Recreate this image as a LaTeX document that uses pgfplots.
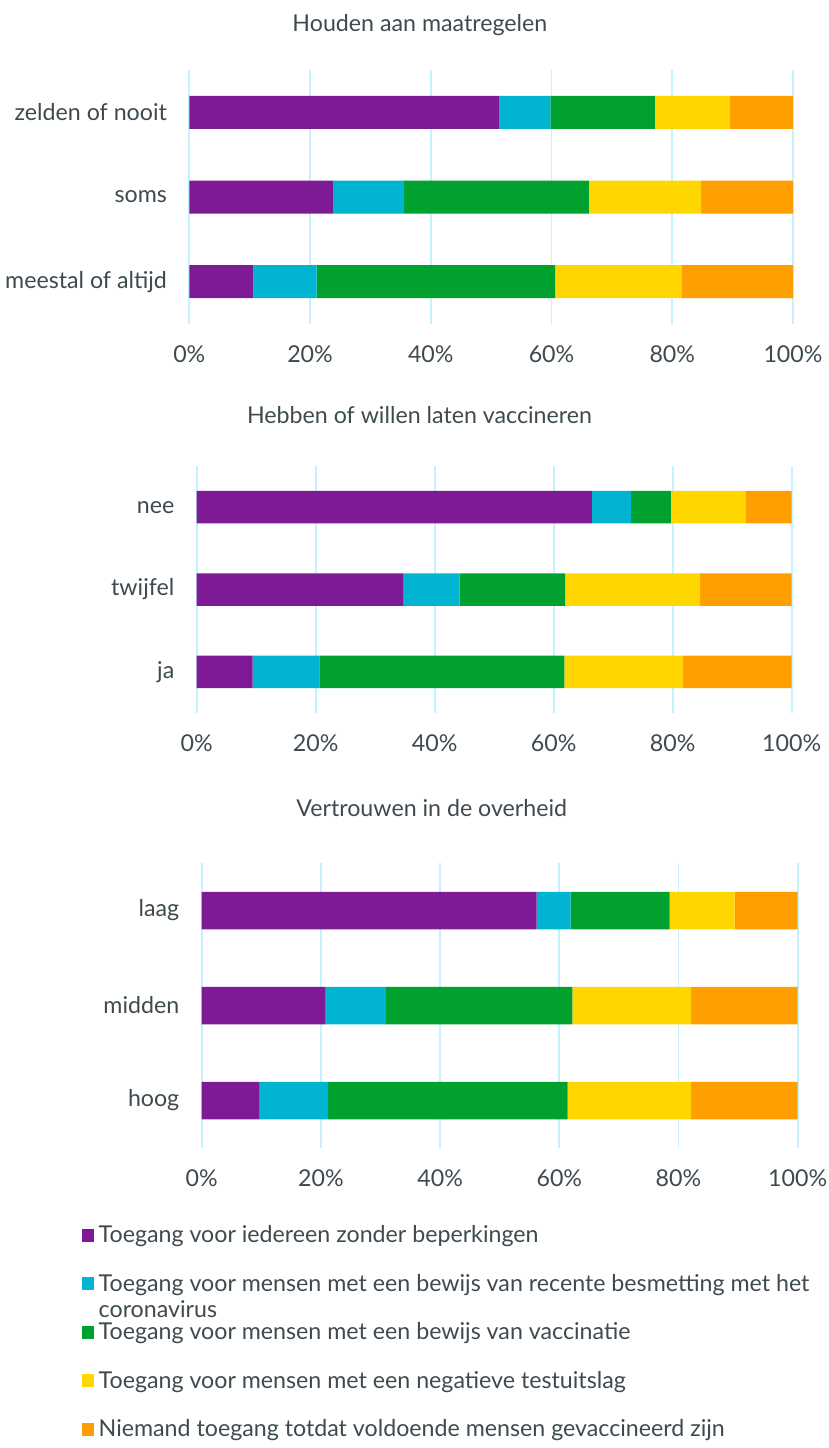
\documentclass[border=0pt]{standalone}
\usepackage{pgfplots}
\pgfplotsset{compat=1.18}
\usepackage{fontspec}
\setmainfont{Lato}
\definecolor{cpurple}{HTML}{7F1A96}
\definecolor{ccyan}{HTML}{00B4D2}
\definecolor{cgreen}{HTML}{00A12F}
\definecolor{cyellow}{HTML}{FFD600}
\definecolor{corange}{HTML}{FF9E00}
\definecolor{cgrid}{HTML}{C4F2FF}
\definecolor{ctext}{HTML}{3E4A4F}
\newcommand{\fs}{\fontsize{11.6}{13}\selectfont}
\pgfplotsset{
 mystyle/.style={
  xbar stacked, scale only axis,
  xmin=0, xmax=100, ymin=-0.5, ymax=2.5,
  axis line style={draw=none},
  major tick length=0pt,
  xtick={0,20,40,60,80,100},
  xticklabels={0\%,20\%,40\%,60\%,80\%,100\%},
  ytick={0,1,2},
  xmajorgrids, grid style={cgrid, line width=0.9pt},
  tick label style={font=\fs, text=ctext},
  xticklabel style={anchor=center, inner sep=0pt},
  xticklabel shift=15pt,
  yticklabel style={anchor=east, inner sep=0pt},
  yticklabel shift=11pt,
  title style={font=\fs, text=ctext, anchor=center, inner sep=0pt},
  every axis plot/.append style={draw=none},
 },
}
\begin{document}
\begin{tikzpicture}
\path[use as bounding box] (0,0) rectangle (414.5pt,-724pt);
% Panel 1
\begin{axis}[mystyle, at={(94.65pt,-35pt)}, anchor=north west,
  width=301.85pt, height=127pt, bar width=16.5pt,
  yticklabels={meestal of altijd, soms, zelden of nooit},
  title={Houden aan maatregelen}, title style={at={(0.382,1)}, yshift=16.5pt}]
\addplot[fill=cpurple] coordinates {(10.6,0) (23.8,1) (51.3,2)};
\addplot[fill=ccyan] coordinates {(10.5,0) (11.8,1) (8.5,2)};
\addplot[fill=cgreen] coordinates {(39.5,0) (30.6,1) (17.3,2)};
\addplot[fill=cyellow] coordinates {(20.9,0) (18.6,1) (12.5,2)};
\addplot[fill=corange] coordinates {(18.5,0) (15.2,1) (10.4,2)};
\end{axis}
% Panel 2
\begin{axis}[mystyle, at={(98.35pt,-233pt)}, anchor=north west,
  width=297.5pt, height=123.5pt, bar width=16.25pt,
  yticklabels={ja, twijfel, nee},
  title={Hebben of willen laten vaccineren}, title style={at={(0.3745,1)}, yshift=19.5pt}]
\addplot[fill=cpurple] coordinates {(9.4,0) (34.7,1) (66.4,2)};
\addplot[fill=ccyan] coordinates {(11.2,0) (9.5,1) (6.6,2)};
\addplot[fill=cgreen] coordinates {(41.2,0) (17.7,1) (6.7,2)};
\addplot[fill=cyellow] coordinates {(19.9,0) (22.7,1) (12.5,2)};
\addplot[fill=corange] coordinates {(18.3,0) (15.4,1) (7.8,2)};
\end{axis}
% Panel 3
\begin{axis}[mystyle, at={(100.85pt,-431.5pt)}, anchor=north west,
  width=298pt, height=142.5pt, bar width=18.75pt,
  yticklabels={hoog, midden, laag},
  title={Vertrouwen in de overheid}, title style={at={(0.386,1)}, yshift=21.5pt},
  legend cell align=left,
  legend style={at={(-0.2013,-0.2685)}, anchor=north west, draw=none, fill=none,
    inner sep=0pt, row sep=15.25pt, column sep=2.5pt, font=\fs, text=ctext,
    nodes={inner sep=0pt, text height=9pt, text depth=0pt}},
  legend image code/.code={\fill[#1] (0pt,-3.85pt) rectangle (5.8pt,2.5pt);}]
\addplot[fill=cpurple] coordinates {(9.7,0) (20.8,1) (56.2,2)};
\addlegendentry{Toegang voor iedereen zonder beperkingen}
\addplot[fill=ccyan] coordinates {(11.5,0) (10.1,1) (5.7,2)};
\addlegendentry{\parbox[t]{380pt}{Toegang voor mensen met een bewijs van recente besmetting met het\\coronavirus}}
\addplot[fill=cgreen] coordinates {(40.2,0) (31.3,1) (16.6,2)};
\addlegendentry{Toegang voor mensen met een bewijs van vaccinatie}
\addplot[fill=cyellow] coordinates {(20.7,0) (19.9,1) (10.9,2)};
\addlegendentry{Toegang voor mensen met een negatieve testuitslag}
\addplot[fill=corange] coordinates {(17.9,0) (17.9,1) (10.6,2)};
\addlegendentry{Niemand toegang totdat voldoende mensen gevaccineerd zijn}
\end{axis}
\end{tikzpicture}
\end{document}
